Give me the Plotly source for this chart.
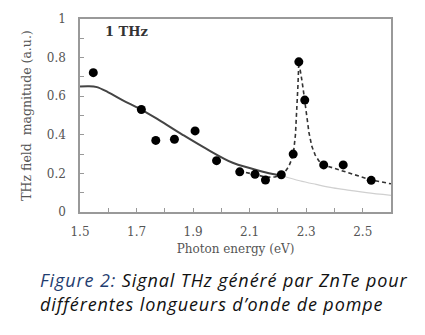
import plotly.graph_objects as go

# Measured data points
energy = [1.547, 1.717, 1.768, 1.834, 1.907, 1.983, 2.065, 2.119, 2.156, 2.212,
          2.254, 2.274, 2.295, 2.362, 2.431, 2.530]
magnitude = [0.722, 0.531, 0.371, 0.377, 0.420, 0.266, 0.208, 0.195, 0.166, 0.193,
             0.300, 0.778, 0.580, 0.244, 0.244, 0.164]

# Solid model curve (dark)
fit_x = [1.50, 1.53, 1.56, 1.60, 1.65, 1.717, 1.78, 1.863, 1.946, 2.04, 2.10, 2.158, 2.215]
fit_y = [0.650, 0.652, 0.647, 0.620, 0.580, 0.531, 0.476, 0.400, 0.328, 0.255, 0.228, 0.205, 0.188]

# Thin grey continuation
ext_x = [2.215, 2.277, 2.335, 2.395, 2.455, 2.513, 2.60]
ext_y = [0.188, 0.162, 0.143, 0.125, 0.112, 0.100, 0.086]

# Dashed resonance curve
res_x = [2.087, 2.12, 2.16, 2.19, 2.212, 2.225, 2.238, 2.248, 2.256, 2.262, 2.267,
         2.271, 2.274, 2.278, 2.284, 2.290, 2.295, 2.302, 2.310, 2.320, 2.332, 2.345,
         2.362, 2.40, 2.43, 2.48, 2.53, 2.60]
res_y = [0.205, 0.192, 0.180, 0.182, 0.193, 0.208, 0.235, 0.270, 0.320, 0.400, 0.520,
         0.660, 0.778, 0.750, 0.690, 0.630, 0.580, 0.490, 0.410, 0.340, 0.295, 0.265,
         0.244, 0.226, 0.213, 0.190, 0.166, 0.146]

x_ticks = [1.5, 1.7, 1.9, 2.1, 2.3, 2.5]
y_ticks = [0, 0.2, 0.4, 0.6, 0.8, 1]
y_labels = ["0", "0.2", "0.4", "0.6", "0.8", "1"]

serif = "Palatino Linotype, Book Antiqua, DejaVu Serif, Liberation Serif, serif"

fig = go.Figure()
fig.add_trace(go.Scatter(x=ext_x, y=ext_y, mode="lines", line_shape="spline",
                         line=dict(color="#d0d0d0", width=1.2), showlegend=False))
fig.add_trace(go.Scatter(x=fit_x, y=fit_y, mode="lines", line_shape="spline",
                         line=dict(color="#444444", width=2), showlegend=False))
fig.add_trace(go.Scatter(x=res_x, y=res_y, mode="lines",
                         line=dict(color="#333333", width=1.6, dash="4px,3px"), showlegend=False))
fig.add_trace(go.Scatter(x=energy, y=magnitude, mode="markers",
                         marker=dict(color="black", size=9), showlegend=False))

fig.update_layout(
    width=425, height=335,
    margin=dict(l=80, r=34, t=15, b=123),
    paper_bgcolor="white", plot_bgcolor="white",
    font=dict(family=serif, color="#555555", size=12),
    xaxis=dict(range=[1.5, 2.6], tickvals=x_ticks, ticktext=[str(v) for v in x_ticks],
               showline=True, linecolor="#999999", linewidth=1.5, mirror=True,
               ticks="inside", ticklen=4, tickcolor="#999999",
               minor=dict(dtick=0.1, tick0=1.5, ticks="inside", ticklen=4, tickcolor="#999999"),
               showgrid=False, zeroline=False, ticklabelstandoff=8,
               title=dict(text="Photon energy (eV)", font=dict(size=12, color="#555555"), standoff=6)),
    yaxis=dict(range=[0, 1], tickvals=y_ticks, ticktext=y_labels,
               showline=True, linecolor="#999999", linewidth=1.5, mirror=True,
               ticks="inside", ticklen=4, tickcolor="#999999",
               minor=dict(dtick=0.1, tick0=0, ticks="inside", ticklen=4, tickcolor="#999999"),
               showgrid=False, zeroline=False, ticklabelstandoff=10,
               title=dict(text="THz field  magnitude (a.u.)", font=dict(size=12.5, color="#555555"), standoff=12)),
)

fig.add_annotation(text="<b>1 THz</b>", x=1.58, y=0.935, xref="x", yref="y", showarrow=False,
                   xanchor="left", yanchor="middle", font=dict(family=serif, size=13, color="#333333"))

cap_font = "Open Sans, Noto Sans, sans-serif"
fig.add_annotation(
    text="<i><span style='color:#1F3D70;letter-spacing:0.9px'>Figure 2:</span>"
         "<span style='letter-spacing:0.9px'> Signal THz généré par ZnTe pour</span></i>",
    xref="paper", yref="paper", x=-0.135, y=-0.350, xanchor="left", yanchor="middle",
    showarrow=False, font=dict(family=cap_font, size=18, color="#111111"))
fig.add_annotation(
    text="<i><span style='letter-spacing:0.9px'>différentes longueurs d’onde de pompe</span></i>",
    xref="paper", yref="paper", x=-0.135, y=-0.477, xanchor="left", yanchor="middle",
    showarrow=False, font=dict(family=cap_font, size=18, color="#111111"))

fig.write_html("out.html")
